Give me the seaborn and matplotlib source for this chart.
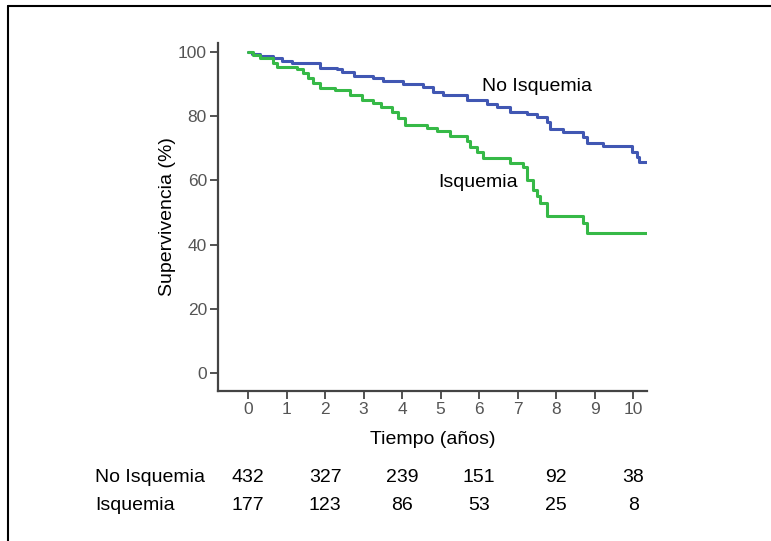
import matplotlib
matplotlib.use("Agg")
import matplotlib.pyplot as plt
import matplotlib.transforms as mtransforms
from matplotlib.lines import Line2D
import numpy as np
import pandas as pd
import seaborn as sns

# ---- data ----
t_no_isq = [0, 0.1, 0.31, 0.65, 0.88, 1.14, 1.87, 2.32, 2.45, 2.74, 3.25, 3.51, 4.03, 4.55,
            4.81, 5.07, 5.68, 6.2, 6.46, 6.81, 7.24, 7.5, 7.76, 7.84, 8.19, 8.71, 8.8, 9.23,
            9.97, 10.1, 10.14, 10.36]
s_no_isq = [100, 99.5, 98.8, 98, 97.3, 96.5, 95.1, 94.6, 93.7, 92.5, 91.8, 91, 90, 89.2,
            87.6, 86.6, 85, 83.8, 82.8, 81.4, 80.7, 79.6, 78.3, 76, 75, 73.4, 71.7, 70.8,
            68.9, 67.4, 65.6, 65.6]

t_isq = [0, 0.14, 0.31, 0.65, 0.75, 1.27, 1.43, 1.56, 1.69, 1.87, 2.26, 2.65, 2.95, 3.25,
         3.45, 3.73, 3.9, 4.08, 4.64, 4.9, 5.25, 5.68, 5.77, 5.94, 6.11, 6.81, 7.15, 7.24,
         7.41, 7.5, 7.58, 7.76, 8.71, 8.8, 10.36]
s_isq = [100, 99.1, 98, 96.5, 95.4, 94.7, 93.4, 91.8, 90.3, 88.9, 88.2, 86.6, 85.2, 84.2,
         83, 81.4, 79.3, 77.3, 76.4, 75.4, 73.8, 72.4, 70.5, 68.9, 67.1, 65.5, 64.1, 60.1,
         57, 55.2, 52.9, 49, 46.6, 43.5, 43.5]

groups = ["No Isquemia", "Isquemia"]
risk_times = [0, 2, 4, 6, 8, 10]
risk_no_isq = [432, 327, 239, 151, 92, 38]
risk_isq = [177, 123, 86, 53, 25, 8]
x_ticks = list(range(0, 11))
y_ticks = [0, 20, 40, 60, 80, 100]

df = pd.concat([
    pd.DataFrame({"t": t_no_isq, "s": s_no_isq, "g": groups[0]}),
    pd.DataFrame({"t": t_isq, "s": s_isq, "g": groups[1]}),
], ignore_index=True)

sns.set_style("white")
plt.rcParams["font.family"] = ["Liberation Sans", "DejaVu Sans"]
plt.rcParams["text.color"] = "black"

fig = plt.figure(figsize=(7.71, 5.41), dpi=100)
ax = fig.add_axes([218 / 771, 150 / 541, 429 / 771, 348 / 541])

palette = {"No Isquemia": "#4157b3", "Isquemia": "#36b947"}
sns.lineplot(data=df, x="t", y="s", hue="g", palette=palette, estimator=None,
             drawstyle="steps-post", linewidth=2.2, legend=False, ax=ax, sort=False)

ax.set_xlim(-0.78, 10.36)
ax.set_ylim(-5.6, 102.8)
ax.set_xticks(x_ticks)
ax.set_yticks(y_ticks)
for side in ["top", "right"]:
    ax.spines[side].set_visible(False)
for side in ["left", "bottom"]:
    ax.spines[side].set_color("#444444")
    ax.spines[side].set_linewidth(1.6)
ax.tick_params(axis="both", direction="out", length=6, width=1.3, color="#444444",
               labelcolor="#555555", labelsize=12.5, pad=2, left=True, bottom=True)
ax.set_xlabel("Tiempo (años)", fontsize=14, labelpad=10, color="black")
ax.set_ylabel("Supervivencia (%)", fontsize=14, labelpad=1, color="black")

ax.text(6.08, 89.4, "No Isquemia", fontsize=14, va="center", ha="left", color="black")
ax.text(4.94, 59.2, "Isquemia", fontsize=14, va="center", ha="left", color="black")

# number at risk table
trans = mtransforms.blended_transform_factory(ax.transData, fig.transFigure)
row_y = [1 - 477 / 541, 1 - 506 / 541]
for lab, vals, yy in zip(groups, [risk_no_isq, risk_isq], row_y):
    fig.text(95 / 771, yy, lab, fontsize=14, va="center", ha="left", color="black")
    for tt, v in zip(risk_times, vals):
        ax.text(tt, yy, str(v), transform=trans, fontsize=14, va="center", ha="center",
                clip_on=False, color="black")

# partial frame (left and top)
fig.add_artist(Line2D([8 / 771, 8 / 771], [0, 1 - 6 / 541], transform=fig.transFigure,
                      color="black", linewidth=1.5))
fig.add_artist(Line2D([8 / 771, 1], [1 - 6 / 541, 1 - 6 / 541], transform=fig.transFigure,
                      color="black", linewidth=1.5))

fig.savefig("out.png", dpi=100)
